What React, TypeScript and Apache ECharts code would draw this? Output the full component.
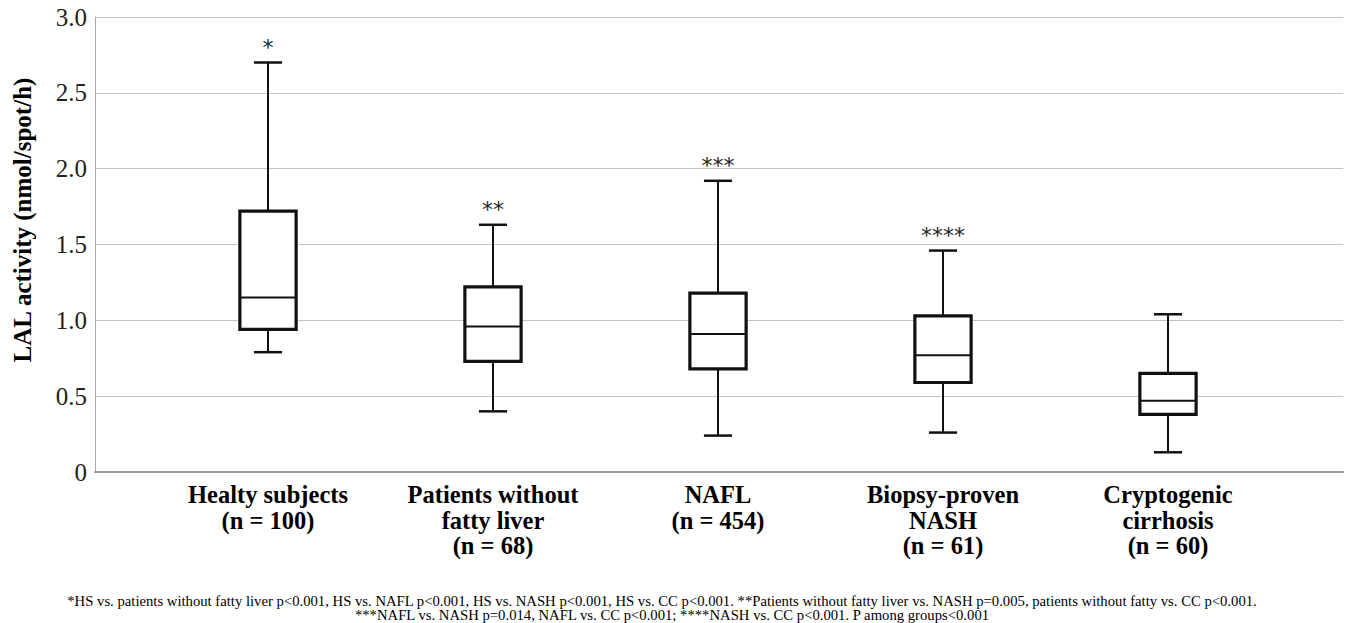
import React, { useEffect, useRef } from "react";
import * as echarts from "echarts";

const categories = [
  "Healty subjects\n(n = 100)",
  "Patients without\nfatty liver\n(n = 68)",
  "NAFL\n(n = 454)",
  "Biopsy-proven\nNASH\n(n = 61)",
  "Cryptogenic\ncirrhosis\n(n = 60)",
];
// [low whisker, Q1, median, Q3, high whisker]
const lowWhisker = [0.79, 0.40, 0.24, 0.26, 0.13];
const q1 = [0.94, 0.73, 0.68, 0.59, 0.38];
const median = [1.15, 0.96, 0.91, 0.77, 0.47];
const q3 = [1.72, 1.22, 1.18, 1.03, 0.65];
const highWhisker = [2.70, 1.63, 1.92, 1.46, 1.04];
const stars = ["*", "**", "***", "****", ""];
const yTicks = { min: 0, max: 3, interval: 0.5 };
const yTitle = "LAL activity (nmol/spot/h)";
const footnote1 =
  "*HS vs. patients without fatty liver p<0.001, HS vs. NAFL p<0.001, HS vs. NASH p<0.001, HS vs. CC p<0.001. **Patients without fatty liver vs. NASH p=0.005, patients without fatty vs. CC p<0.001.";
const footnote2 =
  "***NAFL vs. NASH p=0.014, NAFL vs. CC p<0.001; ****NASH vs. CC p<0.001. P among groups<0.001";

const SERIF = "Liberation Serif";

export default function App() {
  const ref = useRef<HTMLDivElement>(null);
  useEffect(() => {
    if (!ref.current) return;
    const chart = echarts.init(ref.current, null, { renderer: "svg" });
    const data = categories.map((_, i) => [i, lowWhisker[i], q1[i], median[i], q3[i], highWhisker[i]]);
    const option: any = {
      animation: false,
      backgroundColor: "#ffffff",
      textStyle: { fontFamily: SERIF },
      grid: [
        { left: 95, right: 3, top: 17, bottom: 151 },
        { left: 155.5, width: 1125, top: 17, bottom: 151 },
      ],
      xAxis: [
        {
          gridIndex: 0,
          type: "value",
          min: 0,
          max: 1,
          axisLine: { show: true, lineStyle: { color: "#9a9a9a", width: 2 } },
          axisTick: { show: false },
          axisLabel: { show: false },
          splitLine: { show: false },
        },
        {
          gridIndex: 1,
          type: "category",
          data: categories,
          axisLine: { show: false },
          axisTick: { show: false },
          axisLabel: {
            interval: 0,
            margin: 10,
            fontFamily: SERIF,
            fontWeight: "bold",
            fontSize: 24.5,
            lineHeight: 25.5,
            color: "#000",
          },
        },
      ],
      yAxis: [
        {
          gridIndex: 0,
          type: "value",
          min: yTicks.min,
          max: yTicks.max,
          interval: yTicks.interval,
          axisLine: { show: true, lineStyle: { color: "#a8a8a8", width: 1 } },
          axisTick: { show: false },
          axisLabel: {
            margin: 8,
            fontFamily: SERIF,
            fontSize: 25,
            color: "#222",
            formatter: (v: number) => (v === 0 ? "0" : v.toFixed(1)),
          },
          splitLine: { show: true, lineStyle: { color: "#c4c4c4", width: 1 } },
        },
        {
          gridIndex: 1,
          type: "value",
          min: yTicks.min,
          max: yTicks.max,
          show: false,
          splitLine: { show: false },
        },
      ],
      series: [
        {
          type: "custom",
          xAxisIndex: 1,
          yAxisIndex: 1,
          data,
          encode: { x: 0, y: [1, 2, 3, 4, 5] },
          renderItem: (params: any, api: any) => {
            const i = api.value(0);
            const pLow = api.coord([i, api.value(1)]);
            const pQ1 = api.coord([i, api.value(2)]);
            const pMed = api.coord([i, api.value(3)]);
            const pQ3 = api.coord([i, api.value(4)]);
            const pHigh = api.coord([i, api.value(5)]);
            const band = api.size([1, 0])[0];
            const boxW = band * 0.25;
            const capW = band * 0.125;
            const cx = pMed[0];
            const thin = { stroke: "#111", lineWidth: 2, fill: null };
            const children: any[] = [
              { type: "line", shape: { x1: cx, y1: pHigh[1], x2: cx, y2: pQ3[1] }, style: thin },
              { type: "line", shape: { x1: cx, y1: pQ1[1], x2: cx, y2: pLow[1] }, style: thin },
              { type: "line", shape: { x1: cx - capW / 2, y1: pHigh[1], x2: cx + capW / 2, y2: pHigh[1] }, style: { ...thin, lineWidth: 2.5 } },
              { type: "line", shape: { x1: cx - capW / 2, y1: pLow[1], x2: cx + capW / 2, y2: pLow[1] }, style: { ...thin, lineWidth: 2.5 } },
              {
                type: "rect",
                shape: { x: cx - boxW / 2, y: pQ3[1], width: boxW, height: pQ1[1] - pQ3[1] },
                style: { fill: "#fff", stroke: "#111", lineWidth: 3.2 },
              },
              { type: "line", shape: { x1: cx - boxW / 2, y1: pMed[1], x2: cx + boxW / 2, y2: pMed[1] }, style: thin },
            ];
            const s = stars[params.dataIndex];
            if (s) {
              children.push({
                type: "text",
                x: cx,
                y: pHigh[1] - 4,
                style: {
                  text: s,
                  fontFamily: "DejaVu Sans",
                  fontSize: 22,
                  fill: "#222",
                  align: "center",
                  verticalAlign: "bottom",
                },
              });
            }
            return { type: "group", children };
          },
        },
      ],
      graphic: [
        {
          type: "text",
          x: 22,
          y: 220,
          rotation: Math.PI / 2,
          style: {
            text: yTitle,
            fontFamily: SERIF,
            fontWeight: "bold",
            fontSize: 25,
            fill: "#000",
            align: "center",
            verticalAlign: "middle",
          },
        },
        {
          type: "text",
          x: 662,
          y: 601,
          style: {
            text: footnote1,
            fontFamily: SERIF,
            fontSize: 14.7,
            fill: "#000",
            align: "center",
            verticalAlign: "middle",
          },
        },
        {
          type: "text",
          x: 672,
          y: 615,
          style: {
            text: footnote2,
            fontFamily: SERIF,
            fontSize: 14.7,
            fill: "#000",
            align: "center",
            verticalAlign: "middle",
          },
        },
      ],
    };
    chart.setOption(option);
    return () => chart.dispose();
  }, []);
  return (
    <div
      ref={ref}
      style={{ position: "fixed", left: 0, top: 0, width: 1346, height: 623, background: "#fff" }}
    />
  );
}
